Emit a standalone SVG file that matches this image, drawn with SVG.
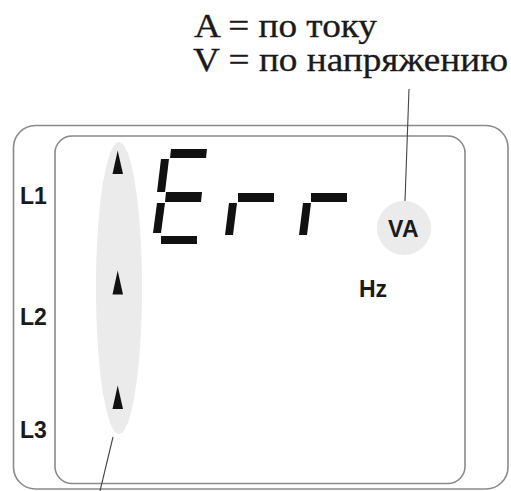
<svg xmlns="http://www.w3.org/2000/svg" width="511" height="491" viewBox="0 0 511 491">
<style>
.frame{fill:none;stroke:#8a8a8a;stroke-width:1.6}
.lbl{font-family:"Liberation Sans",Arial,sans-serif;font-weight:bold;font-size:23px;fill:#1a1a1a}
.cap{font-family:"Liberation Serif","Times New Roman",serif;font-size:33px;fill:#1a1a1a;stroke:#1a1a1a;stroke-width:0.3}
.seg{fill:#111}
.lead{stroke:#444;stroke-width:1.1;fill:none}
.hl{fill:#ebebeb}
</style>
<rect width="511" height="491" fill="#fff"/>
<g id="caption">
<text class="cap" x="194" y="37" textLength="183" lengthAdjust="spacingAndGlyphs">A = по току</text>
<text class="cap" x="193" y="71" textLength="315" lengthAdjust="spacingAndGlyphs">V = по напряжению</text>
</g>
<g id="display">
<rect class="frame" x="13.5" y="125.5" width="494.5" height="363.5" rx="22"/>
<rect class="frame" x="55" y="136" width="410" height="347.5" rx="17"/>
</g>
<g id="phase-indicators">
<ellipse class="hl" cx="119" cy="288" rx="23" ry="146"/>
<polygon class="seg" points="117.7,150.5 123,174 112.5,174"/>
<polygon class="seg" points="117.7,270.5 123,294.5 112.5,294.5"/>
<polygon class="seg" points="117.7,385.5 123,409 112.5,409"/>
</g>
<g id="phase-labels">
<text class="lbl" x="20" y="204">L1</text>
<text class="lbl" x="20" y="325">L2</text>
<text class="lbl" x="20" y="438">L3</text>
</g>
<g id="err">
<polygon class="seg" points="171,149 207,149 206,158 170,158"/>
<polygon class="seg" points="161,159 169,159 165,192 157,192"/>
<polygon class="seg" points="166,192 202,192 201,202 165,202"/>
<polygon class="seg" points="157,203 165,203 161,233 153,233"/>
<polygon class="seg" points="161,236 197,236 197,244 161,244"/>
<polygon class="seg" points="238,193 274,193 274,202 238,202"/>
<polygon class="seg" points="229,203 237,203 233,235 225,235"/>
<polygon class="seg" points="311,193 347,193 347,202 311,202"/>
<polygon class="seg" points="303,203 311,203 307,235 299,235"/>
</g>
<g id="va-indicator">
<circle class="hl" cx="404" cy="228" r="27"/>
<text class="lbl" x="403.5" y="236.5" text-anchor="middle" font-size="24" letter-spacing="0.5">VA</text>
</g>
<g id="hz">
<text class="lbl" x="359" y="297" font-size="22">Hz</text>
</g>
<g id="connectors">
<line class="lead" x1="409" y1="89" x2="405" y2="201"/>
<line class="lead" x1="113" y1="437" x2="100" y2="491"/>
</g>
</svg>
